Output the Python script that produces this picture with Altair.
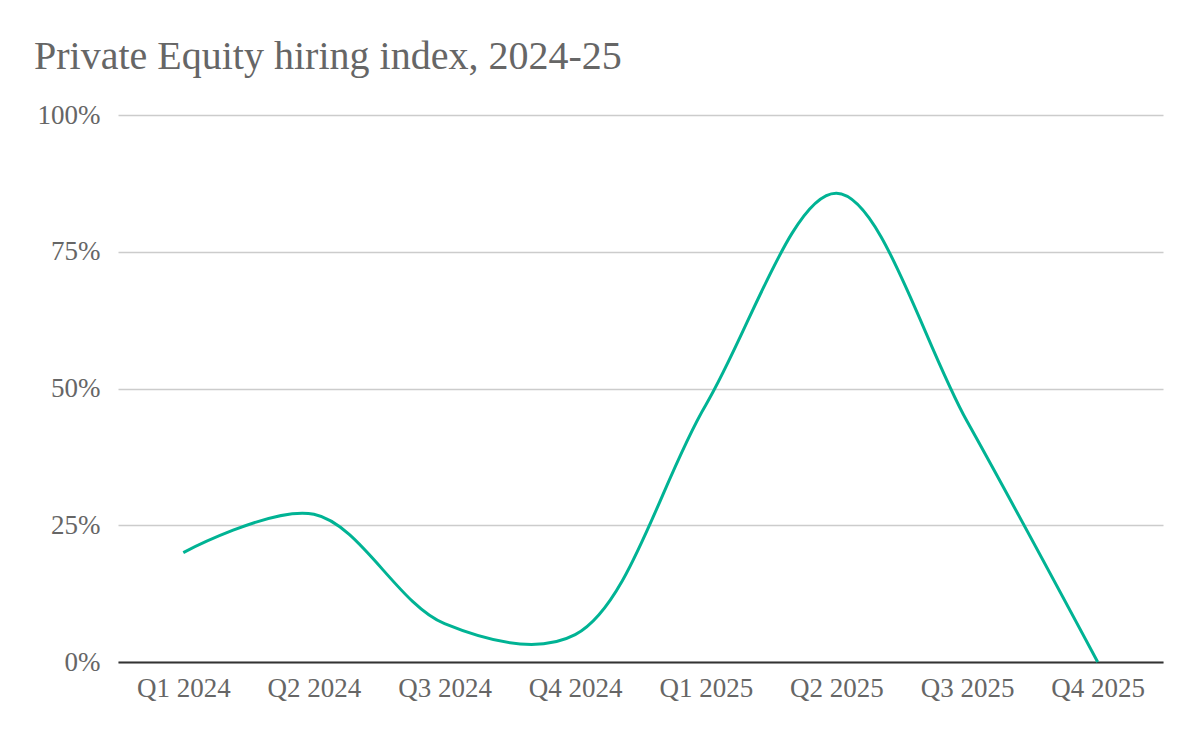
import altair as alt
import pandas as pd

quarters = ["Q1 2024", "Q2 2024", "Q3 2024", "Q4 2024",
            "Q1 2025", "Q2 2025", "Q3 2025", "Q4 2025"]
values = [0.20, 0.27, 0.07, 0.05, 0.47, 0.857, 0.44, 0.0]
y_ticks = [0, 0.25, 0.5, 0.75, 1.0]

df = pd.DataFrame({"quarter": quarters, "value": values})

FONT = "Liberation Serif"
GRAY = "#666666"

chart = (
    alt.Chart(df)
    .mark_line(interpolate="catmull-rom", color="#00b394", strokeWidth=3)
    .encode(
        x=alt.X("quarter:N", sort=quarters, title=None,
                scale=alt.Scale(type="point", padding=0.5),
                axis=alt.Axis(labelAngle=0, grid=False, ticks=False,
                              domainColor="#333333", domainWidth=2,
                              labelPadding=13)),
        y=alt.Y("value:Q", title=None,
                scale=alt.Scale(domain=[0, 1], nice=False),
                axis=alt.Axis(values=y_ticks, format=".0%", domain=False,
                              ticks=False, gridColor="#cccccc", gridWidth=1.5,
                              labelPadding=18)),
    )
    .properties(
        width=1045,
        height=547,
        autosize=alt.AutoSizeParams(type="none"),
        padding={"left": 110, "top": 107, "right": 29, "bottom": 70},
        title=alt.Title("Private Equity hiring index, 2024-25", anchor="start",
                        frame="bounds", font=FONT, fontSize=40, dx=-3,
                        fontWeight="normal", color=GRAY, offset=24),
    )
    .configure_axis(labelFont=FONT, labelFontSize=27, labelColor=GRAY)
    .configure_view(stroke=None)
)

chart.save("out.html", embed_options={"renderer": "svg", "actions": False})
